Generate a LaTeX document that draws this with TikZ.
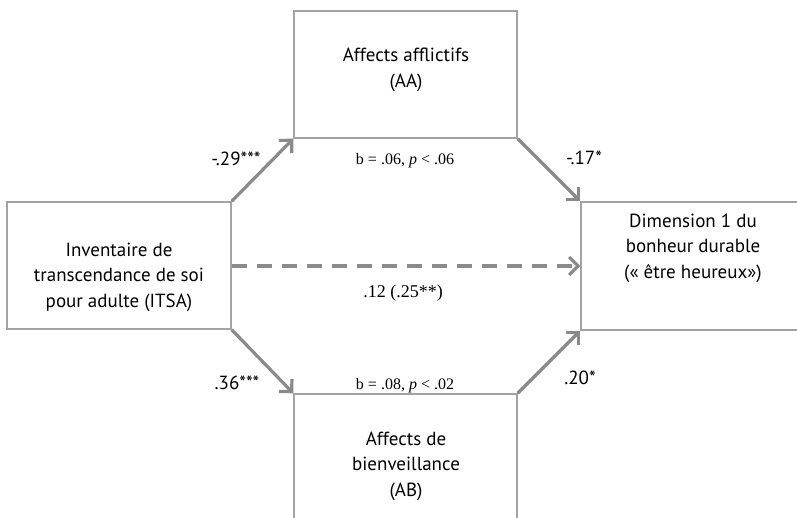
\documentclass[tikz,border=0pt]{standalone}
\usepackage{fontspec}
\setmainfont{PT Sans}
\newfontfamily\serifnum{Liberation Serif}
\usetikzlibrary{arrows.meta}
\definecolor{boxgray}{HTML}{A3A3A3}
\definecolor{arrowgray}{HTML}{8A8A8A}
\tikzset{
  boxnode/.style={draw=boxgray, line width=1.4pt, rectangle, inner sep=0pt},
  boxtext/.style={align=center, font=\fontsize{19}{25.5}\selectfont, text=black, inner sep=0pt},
  pathlabel/.style={font=\fontsize{19}{22}\selectfont, text=black, inner sep=0pt},
  statlabel/.style={font=\serifnum\fontsize{16}{19}\selectfont, text=black, inner sep=0pt},
  patharrow/.style={draw=arrowgray, line width=3.2pt, -{Straight Barb[length=9pt,width=18pt,line width=3.2pt]}},
}
\begin{document}
\begin{tikzpicture}[x=1pt,y=-1pt]
\useasboundingbox (0,0) rectangle (797,518);
\begin{scope}
\clip (0,0) rectangle (797,518);
% boxes
\node[boxnode, minimum width=224pt, minimum height=127pt] (L) at (119,265.5) {};
\node[boxnode, minimum width=223pt, minimum height=127pt] (T) at (405.5,74.5) {};
\node[boxnode, minimum width=224pt, minimum height=128pt] (R) at (693,266) {};
\node[boxnode, minimum width=223pt, minimum height=128pt] (B) at (405.5,458) {};
\end{scope}
% box texts
\node[boxtext] (Lt) at (119,277) {Inventaire de\\transcendance de soi\\pour adulte (ITSA)};
\node[boxtext] (Tt) at (406,70) {Affects afflictifs\\(AA)};
\node[boxtext] (Rt) at (693,248) {Dimension 1 du\\bonheur durable\\(«~être heureux»)};
\node[boxtext] (Bt) at (406,466) {Affects de\\bienveillance\\(AB)};
% arrows
\draw[patharrow] (L.north east) -- (T.south west);
\draw[patharrow] (T.south east) -- (R.north west);
\draw[patharrow] (L.south east) -- (B.north west);
\draw[patharrow] (B.north east) -- (R.south west);
\coordinate (Lmid) at (L.east |- 0,266);
\coordinate (Rmid) at (R.west |- 0,266);
\draw[patharrow, dash pattern=on 15pt off 10pt] (Lmid) -- (Rmid);
% labels
\node[pathlabel] (l1) at (236,159) {-.29***};
\node[pathlabel] (l2) at (584,158) {-.17*};
\node[pathlabel] (l3) at (237,383) {.36***};
\node[pathlabel] (l4) at (580,378) {.20*};
\node[statlabel] (s1) at (405,161) {b = .06, \textit{p} < .06};
\node[statlabel] (s2) at (405,386) {b = .08, \textit{p} < .02};
\node[statlabel, font=\serifnum\fontsize{18}{21}\selectfont] (s3) at (403,293) {.12 (.25**)};
\end{tikzpicture}
\end{document}
